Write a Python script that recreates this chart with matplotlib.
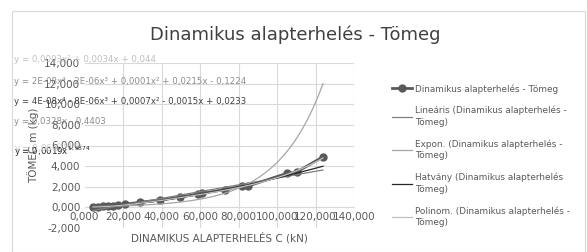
import numpy as np
import matplotlib
matplotlib.use("Agg")
import matplotlib.pyplot as plt
from matplotlib.ticker import FuncFormatter, MultipleLocator

# data (x: dynamic load C in kN, y: mass)
load_kn = [4.4, 7.0, 9.6, 12.2, 14.8, 17.4, 21.0, 28.8, 39.2, 49.5, 59.0, 60.9, 73.0, 81.7, 85.1, 105.0, 110.3, 123.9]
mass = [0.05, 0.08, 0.10, 0.14, 0.18, 0.22, 0.30, 0.50, 0.70, 1.00, 1.30, 1.35, 1.73, 2.05, 2.08, 3.29, 3.44, 4.90]

# trendline coefficients
lin_coef = [0.0328, -0.4403]
pow_coef = [0.0019, 1.5874]
exp_coef = [0.062, 0.0425]
poly_coef = [4e-08, -8e-06, 0.0007, -0.0015, 0.0233]

eq_labels = [
    "y = 0,0003x² + 0,0034x + 0,044",
    "y = 2E-08x⁴ - 2E-06x³ + 0,0001x² + 0,0215x - 0,1224",
    "y = 4E-08x⁴ - 8E-06x³ + 0,0007x² - 0,0015x + 0,0233",
    "y = 0,0328x - 0,4403",
    "y = 0,0019x$^{1,5874}$",
    "y = 0,06e$^{0,0425x}$",
]

W, H = 587, 252
fig = plt.figure(figsize=(W / 100, H / 100), dpi=100)
fig.patch.set_facecolor("white")

def px(x0, y0):
    return x0 / W, 1 - y0 / H

# chart frame
fig.add_artist(plt.Rectangle((12 / W, 0.0), (W - 14) / W, 1 - 11 / H, transform=fig.transFigure,
                             fill=False, edgecolor="#d9d9d9", lw=0.8))

left, right, top, bottom = 84.5, 354, 63, 228
ax = fig.add_axes([left / W, 1 - bottom / H, (right - left) / W, (bottom - top) / H])
ax.set_xlim(0, 140)
ax.set_ylim(-2, 14)
ax.xaxis.set_major_locator(MultipleLocator(20))
ax.yaxis.set_major_locator(MultipleLocator(2))
fmt = FuncFormatter(lambda v, p: f"{v:,.3f}".replace(".", ","))
ax.xaxis.set_major_formatter(fmt)
ax.yaxis.set_major_formatter(fmt)
for s in ["top", "right", "left"]:
    ax.spines[s].set_visible(False)
ax.spines["bottom"].set_position(("data", 0))
ax.spines["bottom"].set_color("#d9d9d9")
ax.tick_params(length=0, labelsize=7.5, colors="#595959", pad=3)
for g in range(0, 15, 2):
    ax.axhline(g, color="#d9d9d9", lw=0.8, zorder=0)
for g in range(20, 141, 20):
    ax.axvline(g, color="#d9d9d9", lw=0.8, zorder=0)

xs = np.linspace(min(load_kn), max(load_kn), 200)
h_data, = ax.plot(load_kn, mass, color="#595959", lw=2.0, marker="o", ms=5, zorder=5,
                  label="Dinamikus alapterhelés - Tömeg")
h_lin, = ax.plot(xs, np.polyval(lin_coef, xs), color="#7f7f7f", lw=0.9, zorder=6,
                 label="Lineáris (Dinamikus alapterhelés -\nTömeg)")
h_exp, = ax.plot(xs, exp_coef[0] * np.exp(exp_coef[1] * xs), color="#a6a6a6", lw=0.9, zorder=6,
                 label="Expon. (Dinamikus alapterhelés -\nTömeg)")
h_pow, = ax.plot(xs, pow_coef[0] * xs ** pow_coef[1], color="#262626", lw=0.9, zorder=6,
                 label="Hatvány (Dinamikus alapterhelés\nTömeg)")
h_poly, = ax.plot(xs, np.polyval(poly_coef, xs), color="#bfbfbf", lw=0.9, zorder=6,
                  label="Polinom. (Dinamikus alapterhelés -\nTömeg)")

ax.set_xlabel("DINAMIKUS ALAPTERHELÉS C (kN)", fontsize=7.5, color="#595959")
ax.xaxis.set_label_coords(0.5, -0.025)
ax.set_ylabel("TÖMEG m (kg)", fontsize=7.5, color="#595959")
ax.yaxis.set_label_coords(-0.17, 0.5)

fig.text(*px(295, 35), "Dinamikus alapterhelés - Tömeg", fontsize=13, color="#404040",
         ha="center", va="center")

eq_pos = [(14, 59, "#bfbfbf"), (14, 82, "#8c8c8c"), (14, 102, "#404040"),
          (14, 121, "#8c8c8c"), (14, 152, "#262626"), (14, 149, "#c8c8c8")]
for (x0, y0, c), t in zip(eq_pos, eq_labels):
    fig.text(*px(x0, y0), t, fontsize=6.2, color=c, va="center", ha="left", zorder=10)

leg = fig.legend(handles=[h_data, h_lin, h_exp, h_pow, h_poly], loc="upper left",
                 bbox_to_anchor=(384 / W, 1 - 76 / H), frameon=False, fontsize=6.4,
                 handlelength=2.3, handletextpad=0.3, labelspacing=1.4, labelcolor="#595959")
for t in leg.get_texts():
    t.set_linespacing(1.35)

fig.savefig("out.png", dpi=100)
